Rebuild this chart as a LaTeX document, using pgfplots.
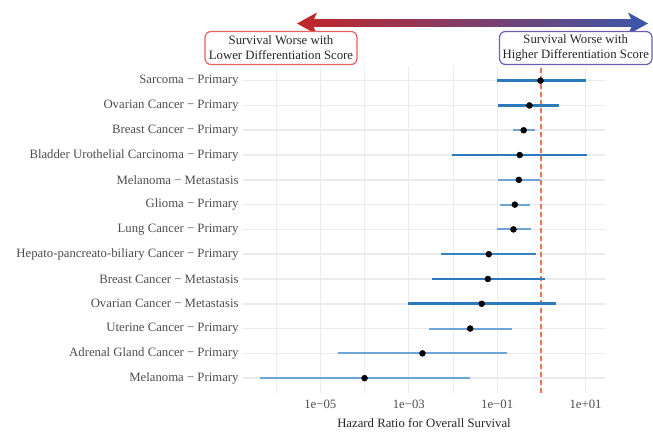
\documentclass[border=0pt]{standalone}
\usepackage{pgfplots}
\pgfplotsset{compat=1.18}
\usepackage{fontspec}
\setmainfont{Liberation Serif}
\definecolor{gridc}{HTML}{EBEBEB}
\definecolor{labc}{HTML}{4D4D4D}
\definecolor{darkb}{HTML}{2B7ABC}
\definecolor{midb}{HTML}{3584C4}
\definecolor{lightb}{HTML}{6DA6D6}
\definecolor{refc}{HTML}{EB7157}
\definecolor{arrred}{HTML}{BE272C}
\definecolor{arrblue}{HTML}{3F56A6}
\definecolor{boxred}{HTML}{E5615C}
\definecolor{boxblue}{HTML}{6E5DB3}
\begin{document}
\fontsize{12.8}{15}\selectfont
\begin{tikzpicture}[x=1bp,y=-1bp]
\begin{axis}[
  set layers=standard,
  at={(243bp,-393bp)}, anchor=south west,
  scale only axis, width=362bp, height=327.2bp,
  xmode=log, xmin=1.778e-7, xmax=27.54,
  ymin=0.4, ymax=13.6,
  axis line style={draw=none},
  major tick length=0pt, minor tick length=0pt,
  xtick={1e-5,1e-3,1e-1,1e1},
  xticklabels={1e−05,1e−03,1e−01,1e+01},
  minor xtick={1e-6,1e-4,1e-2,1},
  ytick={1,...,13},
  yticklabels={Melanoma − Primary,Adrenal Gland Cancer − Primary,Uterine Cancer − Primary,Ovarian Cancer − Metastasis,Breast Cancer − Metastasis,Hepato-pancreato-biliary Cancer − Primary,Lung Cancer − Primary,Glioma − Primary,Melanoma − Metastasis,Bladder Urothelial Carcinoma − Primary,Breast Cancer − Primary,Ovarian Cancer − Primary,Sarcoma − Primary},
  xmajorgrids, xminorgrids, ymajorgrids,
  x grid style={gridc, line width=1.1bp},
  minor x grid style={gridc, line width=0.8bp},
  y grid style={gridc, line width=1.6bp},
  /pgf/number format/assume math mode=true,
  ticklabel style={font=\fontsize{12.8}{15}\selectfont, text=labc},
  xticklabel style={yshift=-3bp},
  xlabel={Hazard Ratio for Overall Survival},
  xlabel style={font=\fontsize{12.8}{15}\selectfont, text=black!85, at={(axis description cs:0.5,-0.064)}, anchor=north},
  clip=false,
]
\addplot[draw=refc, line width=1.8bp, dash pattern=on 5bp off 3bp] coordinates {(1,0.4) (1,13.6)};
% confidence intervals (lower, upper)
\addplot[draw=lightb, line width=2.0bp] coordinates {(4.2e-7,1) (0.0245,1)};
\addplot[draw=lightb, line width=2.0bp] coordinates {(2.57e-5,2) (0.170,2)};
\addplot[draw=lightb, line width=2.0bp] coordinates {(0.00282,3) (0.219,3)};
\addplot[draw=darkb, line width=3.0bp] coordinates {(0.000955,4) (2.09,4)};
\addplot[draw=darkb, line width=2.7bp] coordinates {(0.00331,5) (1.23,5)};
\addplot[draw=midb, line width=1.8bp] coordinates {(0.0055,6) (0.776,6)};
\addplot[draw=lightb, line width=2.0bp] coordinates {(0.100,7) (0.575,7)};
\addplot[draw=lightb, line width=1.9bp] coordinates {(0.115,8) (0.550,8)};
\addplot[draw=lightb, line width=2.0bp] coordinates {(0.107,9) (0.912,9)};
\addplot[draw=darkb, line width=2.8bp] coordinates {(0.00933,10) (11.0,10)};
\addplot[draw=lightb, line width=1.9bp] coordinates {(0.229,11) (0.708,11)};
\addplot[draw=darkb, line width=2.6bp] coordinates {(0.107,12) (2.57,12)};
\addplot[draw=darkb, line width=2.9bp] coordinates {(0.0977,13) (10.0,13)};
% point estimates
\addplot[only marks, mark=*, mark size=3bp, mark options={fill=black, draw=black}] coordinates {
(1.0e-4,1) (0.00204,2) (0.0245,3) (0.0447,4) (0.0617,5) (0.0646,6) (0.234,7)
(0.251,8) (0.309,9) (0.324,10) (0.398,11) (0.537,12) (0.955,13)};
\end{axis}
% gradient arrow
\shade[left color=arrred, right color=arrblue] (306,20) rectangle (638,27);
\fill[arrred] (297,23.5) -- (317,12.5) -- (312,23.5) -- (317,34.5) -- cycle;
\fill[arrblue] (648,23.5) -- (628,12.5) -- (633,23.5) -- (628,34.5) -- cycle;
% boxes
\draw[boxred, line width=1.2bp, rounded corners=6bp, fill=white] (205,31.5) rectangle (357,64.5);
\draw[boxblue, line width=1.2bp, rounded corners=6bp, fill=white] (499.5,31.5) rectangle (652,64.5);
\node[align=center, text=black!85, font=\fontsize{12.8}{15.3}\selectfont, inner sep=0] at (281,48) {Survival Worse with\\Lower Differentiation Score};
\node[align=center, text=black!85, font=\fontsize{12.8}{15.3}\selectfont, inner sep=0] at (575.75,48) {Survival Worse with\\Higher Differentiation Score};
\path (0,0) rectangle (653,430);
\end{tikzpicture}
\end{document}
